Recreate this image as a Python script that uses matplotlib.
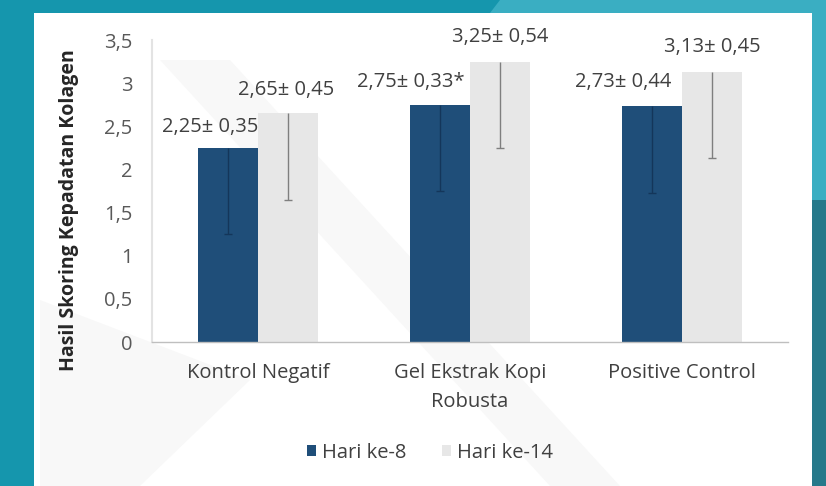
import matplotlib
matplotlib.use("Agg")
import matplotlib.pyplot as plt
from matplotlib.patches import Rectangle, Polygon
import numpy as np

categories = ["Kontrol Negatif", "Gel Ekstrak Kopi\nRobusta", "Positive Control"]
series_names = ["Hari ke-8", "Hari ke-14"]
hari8 = [2.25, 2.75, 2.73]
hari14 = [2.65, 3.25, 3.13]
err8 = [1.0, 1.0, 1.0]
err14 = [1.0, 1.0, 1.0]
labels8 = ["2,25± 0,35", "2,75± 0,33*", "2,73± 0,44"]
labels14 = ["2,65± 0,45", "3,25± 0,54", "3,13± 0,45"]
yticks = [0, 0.5, 1, 1.5, 2, 2.5, 3, 3.5]
ytick_labels = ["0", "0,5", "1", "1,5", "2", "2,5", "3", "3,5"]

# label placement offsets (layout only)
off8 = [(-0.085, 0.24), (-0.137, 0.26), (-0.137, 0.28)]
off14 = [(-0.01, 0.27), (0.0, 0.28), (0.0, 0.29)]

W, H = 826, 486
fig = plt.figure(figsize=(W / 100, H / 100), dpi=100)
fig.patch.set_facecolor("#1596ad")

def fx(x): return x / W
def fy(y): return 1 - y / H

# background decorations
fig.patches.append(Polygon([(fx(500), fy(0)), (fx(826), fy(0)), (fx(826), fy(486)),
                            (fx(812), fy(486)), (fx(812), fy(13)), (fx(490), fy(13))],
                           closed=True, transform=fig.transFigure, facecolor="#3aaec2",
                           edgecolor="none", zorder=0))
fig.patches.append(Rectangle((fx(812), 0), fx(14), fy(200), transform=fig.transFigure,
                             facecolor="#26798a", edgecolor="none", zorder=0))
fig.patches.append(Rectangle((fx(34), 0), fx(812 - 34), 1 - 13 / H, transform=fig.transFigure,
                             facecolor="white", edgecolor="none", zorder=1))
# faint watermark bands
for pts in [[(160, 60), (230, 60), (620, 486), (550, 486)],
            [(40, 300), (40, 486), (140, 486), (250, 380)]]:
    fig.patches.append(Polygon([(fx(a), fy(b)) for a, b in pts], closed=True,
                               transform=fig.transFigure, facecolor="#f8f8f8",
                               edgecolor="none", zorder=1.5))

ax_left, ax_right = 152, 788
ax_top, ax_bottom = 40, 342
ax = fig.add_axes([fx(ax_left), fy(ax_bottom), fx(ax_right - ax_left), (ax_bottom - ax_top) / H])
ax.set_facecolor("none")
ax.set_zorder(2)

font = "Open Sans"
fs = 14.5
x = np.arange(len(categories))
bw = 0.283
dark = "#1f4e79"
light = "#e7e7e7"

ax.bar(x - bw / 2, hari8, bw, color=dark, label=series_names[0], zorder=2)
ax.bar(x + bw / 2, hari14, bw, color=light, label=series_names[1], zorder=2)

low8 = np.array(hari8) - np.array(err8)
low14 = np.array(hari14) - np.array(err14)
ax.vlines(x - bw / 2, low8, hari8, color="#14365a", lw=1.0, zorder=3)
ax.vlines(x + bw / 2, low14, hari14, color="#7f7f7f", lw=1.0, zorder=3)
ax.plot(x - bw / 2, low8, ls="none", marker="_", ms=6, mew=1.0, color="#14365a", zorder=3)
ax.plot(x + bw / 2, low14, ls="none", marker="_", ms=6, mew=1.0, color="#7f7f7f", zorder=3)

for i in range(len(categories)):
    ax.text(x[i] - bw / 2 + off8[i][0], hari8[i] + off8[i][1], labels8[i], ha="center",
            va="center", fontsize=fs, color="#404040", family=font, clip_on=False)
    ax.text(x[i] + bw / 2 + off14[i][0], hari14[i] + off14[i][1], labels14[i], ha="center",
            va="center", fontsize=fs, color="#404040", family=font, clip_on=False)

ax.set_xlim(-0.5, len(categories) - 0.5)
ax.set_ylim(0, 3.5)
ax.set_yticks(yticks)
ax.set_yticklabels(ytick_labels, family=font, fontsize=fs, color="#595959")
ax.set_xticks(x)
ax.set_xticklabels(categories, family=font, fontsize=fs, color="#404040", linespacing=1.6)
ax.tick_params(axis="both", length=0)
ax.tick_params(axis="y", pad=14)
ax.tick_params(axis="x", pad=15)
for s in ["top", "right"]:
    ax.spines[s].set_visible(False)
ax.spines["left"].set_color("#e3e3e3")
ax.spines["left"].set_linewidth(1.5)
ax.spines["bottom"].set_color("#bfbfbf")
ax.spines["bottom"].set_linewidth(1.0)

ax.set_ylabel("Hasil Skoring Kepadatan Kolagen", family=font, fontsize=14,
              fontweight="bold", color="#262626")
ax.yaxis.set_label_coords((79 - ax_left) / (ax_right - ax_left), (ax_bottom - 210) / (ax_bottom - ax_top))

leg = fig.legend(loc="center", bbox_to_anchor=(fx(430), fy(453)), ncol=2, frameon=False,
                 handlelength=0.45, handleheight=0.45, handletextpad=0.3, columnspacing=1.8,
                 prop={"family": font, "size": fs})
for t in leg.get_texts():
    t.set_color("#404040")

fig.savefig("out.png", dpi=100, facecolor=fig.get_facecolor())
